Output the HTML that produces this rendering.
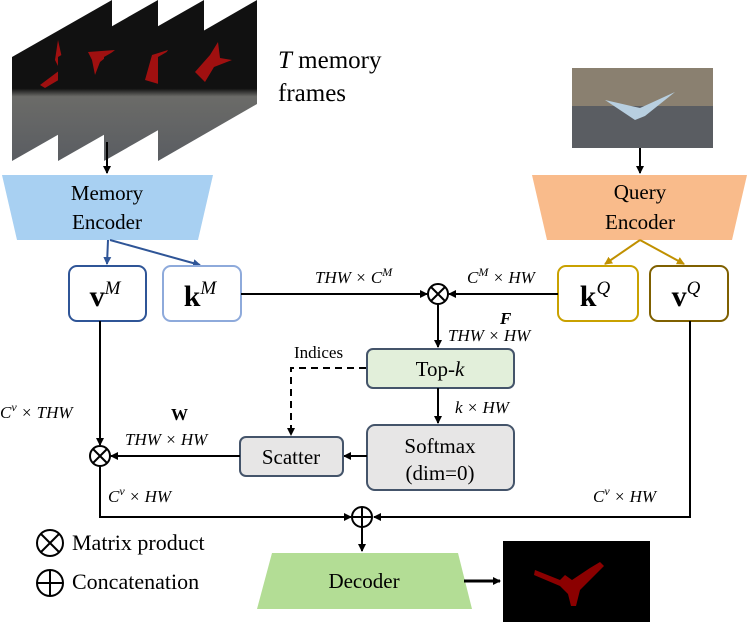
<!DOCTYPE html>
<html><head><style>body{margin:0;background:#fff}svg{display:block}</style></head><body>
<svg width="747" height="622" viewBox="0 0 747 622" xmlns="http://www.w3.org/2000/svg" font-family="'Liberation Serif', serif">
<defs>
<marker id="a" markerWidth="8" markerHeight="8" refX="7" refY="4" orient="auto" markerUnits="userSpaceOnUse"><path d="M0,0 L8,4 L0,8 z" fill="#000"/></marker>
<marker id="ab" markerWidth="8" markerHeight="8" refX="7" refY="4" orient="auto" markerUnits="userSpaceOnUse"><path d="M0,0 L8,4 L0,8 z" fill="#2f5597"/></marker>
<marker id="ag" markerWidth="8" markerHeight="8" refX="7" refY="4" orient="auto" markerUnits="userSpaceOnUse"><path d="M0,0 L8,4 L0,8 z" fill="#c09000"/></marker>
<linearGradient id="fr" x1="0" y1="0" x2="0" y2="1"><stop offset="0" stop-color="#111"/><stop offset="0.55" stop-color="#111"/><stop offset="0.6" stop-color="#6b6b68"/><stop offset="1" stop-color="#5a5d62"/></linearGradient>
</defs>
<g>
<polygon points="12,57 112,0 112,104 12,161" fill="url(#fr)"/>
<path d="M40,85 L60,70 L55,60 L58,40 L62,58 L72,72 L45,88z" fill="#a01010"/>
<polygon points="58,57 158,0 158,104 58,161" fill="url(#fr)"/>
<path d="M88,52 L115,50 L100,62 L95,75 L92,60z" fill="#a01010"/>
<polygon points="104,57 204,0 204,104 104,161" fill="url(#fr)"/>
<path d="M145,80 L152,55 L168,50 L160,62 L162,85z" fill="#a01010"/>
<polygon points="158,57 257,0 257,104 158,161" fill="url(#fr)"/>
<path d="M195,72 L210,55 L218,42 L220,58 L232,60 L214,67 L205,82z" fill="#a01010"/>
</g>
<text x="278" y="68" font-size="25"><tspan font-style="italic">T</tspan> memory</text>
<text x="278" y="101" font-size="25">frames</text>
<line x1="107" y1="142" x2="107" y2="173" stroke="#000" stroke-width="2" marker-end="url(#a)"/>
<polygon points="2,175 213,175 198,240 17,240" fill="#a8d0f2"/>
<text x="107" y="200" font-size="21" text-anchor="middle">Memory</text>
<text x="107" y="229" font-size="21" text-anchor="middle">Encoder</text>
<line x1="108" y1="240" x2="107" y2="264" stroke="#2f5597" stroke-width="2" marker-end="url(#ab)"/>
<line x1="110" y1="240" x2="200" y2="265" stroke="#2f5597" stroke-width="2" marker-end="url(#ab)"/>
<rect x="69" y="266" width="77" height="55" rx="8" fill="#fff" stroke="#2f5597" stroke-width="2"/>
<text x="105" y="306" font-size="30" text-anchor="middle" font-weight="bold">v<tspan font-size="19" dy="-12" font-style="italic" font-weight="normal">M</tspan></text>
<rect x="163" y="266" width="78" height="55" rx="8" fill="#fff" stroke="#8eaadb" stroke-width="2"/>
<text x="200" y="306" font-size="30" text-anchor="middle" font-weight="bold">k<tspan font-size="19" dy="-12" font-style="italic" font-weight="normal">M</tspan></text>
<line x1="241" y1="294" x2="427" y2="294" stroke="#000" stroke-width="2" marker-end="url(#a)"/>
<text x="315" y="283" font-size="17" font-style="italic">THW × C<tspan font-size="12" dy="-7">M</tspan></text>
<rect x="572" y="68" width="141" height="80" fill="#5a5d62"/>
<rect x="572" y="68" width="141" height="38" fill="#8a8070"/>
<path d="M605,100 L640,108 L675,92 L645,116 L635,120z" fill="#b8cfe0"/>
<line x1="640" y1="148" x2="640" y2="173" stroke="#000" stroke-width="2" marker-end="url(#a)"/>
<polygon points="532,175 747,175 732,240 547,240" fill="#f9bb8b"/>
<text x="640" y="199" font-size="21" text-anchor="middle">Query</text>
<text x="640" y="229" font-size="21" text-anchor="middle">Encoder</text>
<line x1="640" y1="240" x2="605" y2="264" stroke="#c09000" stroke-width="2" marker-end="url(#ag)"/>
<line x1="640" y1="240" x2="684" y2="264" stroke="#c09000" stroke-width="2" marker-end="url(#ag)"/>
<rect x="558" y="266" width="80" height="55" rx="8" fill="#fff" stroke="#c9a100" stroke-width="2"/>
<text x="595" y="306" font-size="30" text-anchor="middle" font-weight="bold">k<tspan font-size="19" dy="-12" font-style="italic" font-weight="normal">Q</tspan></text>
<rect x="650" y="266" width="78" height="55" rx="8" fill="#fff" stroke="#7f6000" stroke-width="2"/>
<text x="686" y="306" font-size="30" text-anchor="middle" font-weight="bold">v<tspan font-size="19" dy="-12" font-style="italic" font-weight="normal">Q</tspan></text>
<line x1="558" y1="294" x2="449" y2="294" stroke="#000" stroke-width="2" marker-end="url(#a)"/>
<text x="467" y="283" font-size="17" font-style="italic">C<tspan font-size="12" dy="-7">M</tspan><tspan dy="7"> × HW</tspan></text>
<circle cx="438" cy="294" r="10" fill="#fff" stroke="#000" stroke-width="2"/>
<path d="M431,287 L445,301 M445,287 L431,301" stroke="#000" stroke-width="2"/>
<line x1="438" y1="304" x2="438" y2="347" stroke="#000" stroke-width="2" marker-end="url(#a)"/>
<text x="500" y="324" font-size="17" font-style="italic" font-weight="bold">F</text>
<text x="448" y="341" font-size="17" font-style="italic">THW × HW</text>
<rect x="367" y="349" width="147" height="39" rx="6" fill="#e2efda" stroke="#44546a" stroke-width="2"/>
<text x="440" y="376" font-size="21" text-anchor="middle">Top-<tspan font-style="italic">k</tspan></text>
<text x="294" y="358" font-size="17">Indices</text>
<path d="M366,368 L291,368 L291,435" fill="none" stroke="#000" stroke-width="2" stroke-dasharray="7,5"/>
<path d="M287,428 L291,436 L295,428z" fill="#000"/>
<line x1="438" y1="388" x2="438" y2="423" stroke="#000" stroke-width="2" marker-end="url(#a)"/>
<text x="455" y="413" font-size="17" font-style="italic">k × HW</text>
<rect x="367" y="425" width="147" height="65" rx="8" fill="#e7e6e6" stroke="#44546a" stroke-width="2"/>
<text x="440" y="453" font-size="21" text-anchor="middle">Softmax</text>
<text x="440" y="480" font-size="21" text-anchor="middle">(dim=0)</text>
<line x1="367" y1="456" x2="344" y2="456" stroke="#000" stroke-width="2" marker-end="url(#a)"/>
<rect x="240" y="437" width="103" height="39" rx="6" fill="#e7e6e6" stroke="#44546a" stroke-width="2"/>
<text x="291" y="464" font-size="21" text-anchor="middle">Scatter</text>
<line x1="240" y1="456" x2="111" y2="456" stroke="#000" stroke-width="2" marker-end="url(#a)"/>
<text x="171" y="420" font-size="17" font-weight="bold">W</text>
<text x="125" y="445" font-size="17" font-style="italic">THW × HW</text>
<line x1="100" y1="321" x2="100" y2="445" stroke="#000" stroke-width="2" marker-end="url(#a)"/>
<text x="0" y="418" font-size="17" font-style="italic">C<tspan font-size="12" dy="-7">v</tspan><tspan dy="7"> × THW</tspan></text>
<circle cx="100" cy="456" r="10" fill="#fff" stroke="#000" stroke-width="2"/>
<path d="M93,449 L107,463 M107,449 L93,463" stroke="#000" stroke-width="2"/>
<polyline points="100,466 100,517 351,517" fill="none" stroke="#000" stroke-width="2" marker-end="url(#a)"/>
<text x="108" y="502" font-size="17" font-style="italic">C<tspan font-size="12" dy="-7">v</tspan><tspan dy="7"> × HW</tspan></text>
<polyline points="690,321 690,517 374,517" fill="none" stroke="#000" stroke-width="2" marker-end="url(#a)"/>
<text x="593" y="502" font-size="17" font-style="italic">C<tspan font-size="12" dy="-7">v</tspan><tspan dy="7"> × HW</tspan></text>
<circle cx="362" cy="517" r="10" fill="#fff" stroke="#000" stroke-width="2"/>
<path d="M352,517 L372,517 M362,507 L362,527" stroke="#000" stroke-width="2"/>
<line x1="362" y1="527" x2="362" y2="551" stroke="#000" stroke-width="2" marker-end="url(#a)"/>
<polygon points="272,553 458,553 472,609 257,609" fill="#b3dd95"/>
<text x="364" y="588" font-size="21" text-anchor="middle">Decoder</text>
<line x1="464" y1="581" x2="500" y2="581" stroke="#000" stroke-width="3" marker-end="url(#a)"/>
<rect x="503" y="541" width="147" height="81" fill="#000"/>
<path d="M535,570 L560,580 L565,575 L572,580 L590,568 L600,562 L604,566 L590,580 L580,590 L576,606 L571,606 L568,594 L560,586 L534,575z" fill="#8b0000"/>
<circle cx="50" cy="543" r="13" fill="#fff" stroke="#000" stroke-width="2"/>
<path d="M41,534 L59,552 M59,534 L41,552" stroke="#000" stroke-width="2"/>
<text x="72" y="550" font-size="22">Matrix product</text>
<circle cx="50" cy="583" r="13" fill="#fff" stroke="#000" stroke-width="2"/>
<path d="M37,583 L63,583 M50,570 L50,596" stroke="#000" stroke-width="2"/>
<text x="72" y="589" font-size="22">Concatenation</text>
</svg>
</body></html>
